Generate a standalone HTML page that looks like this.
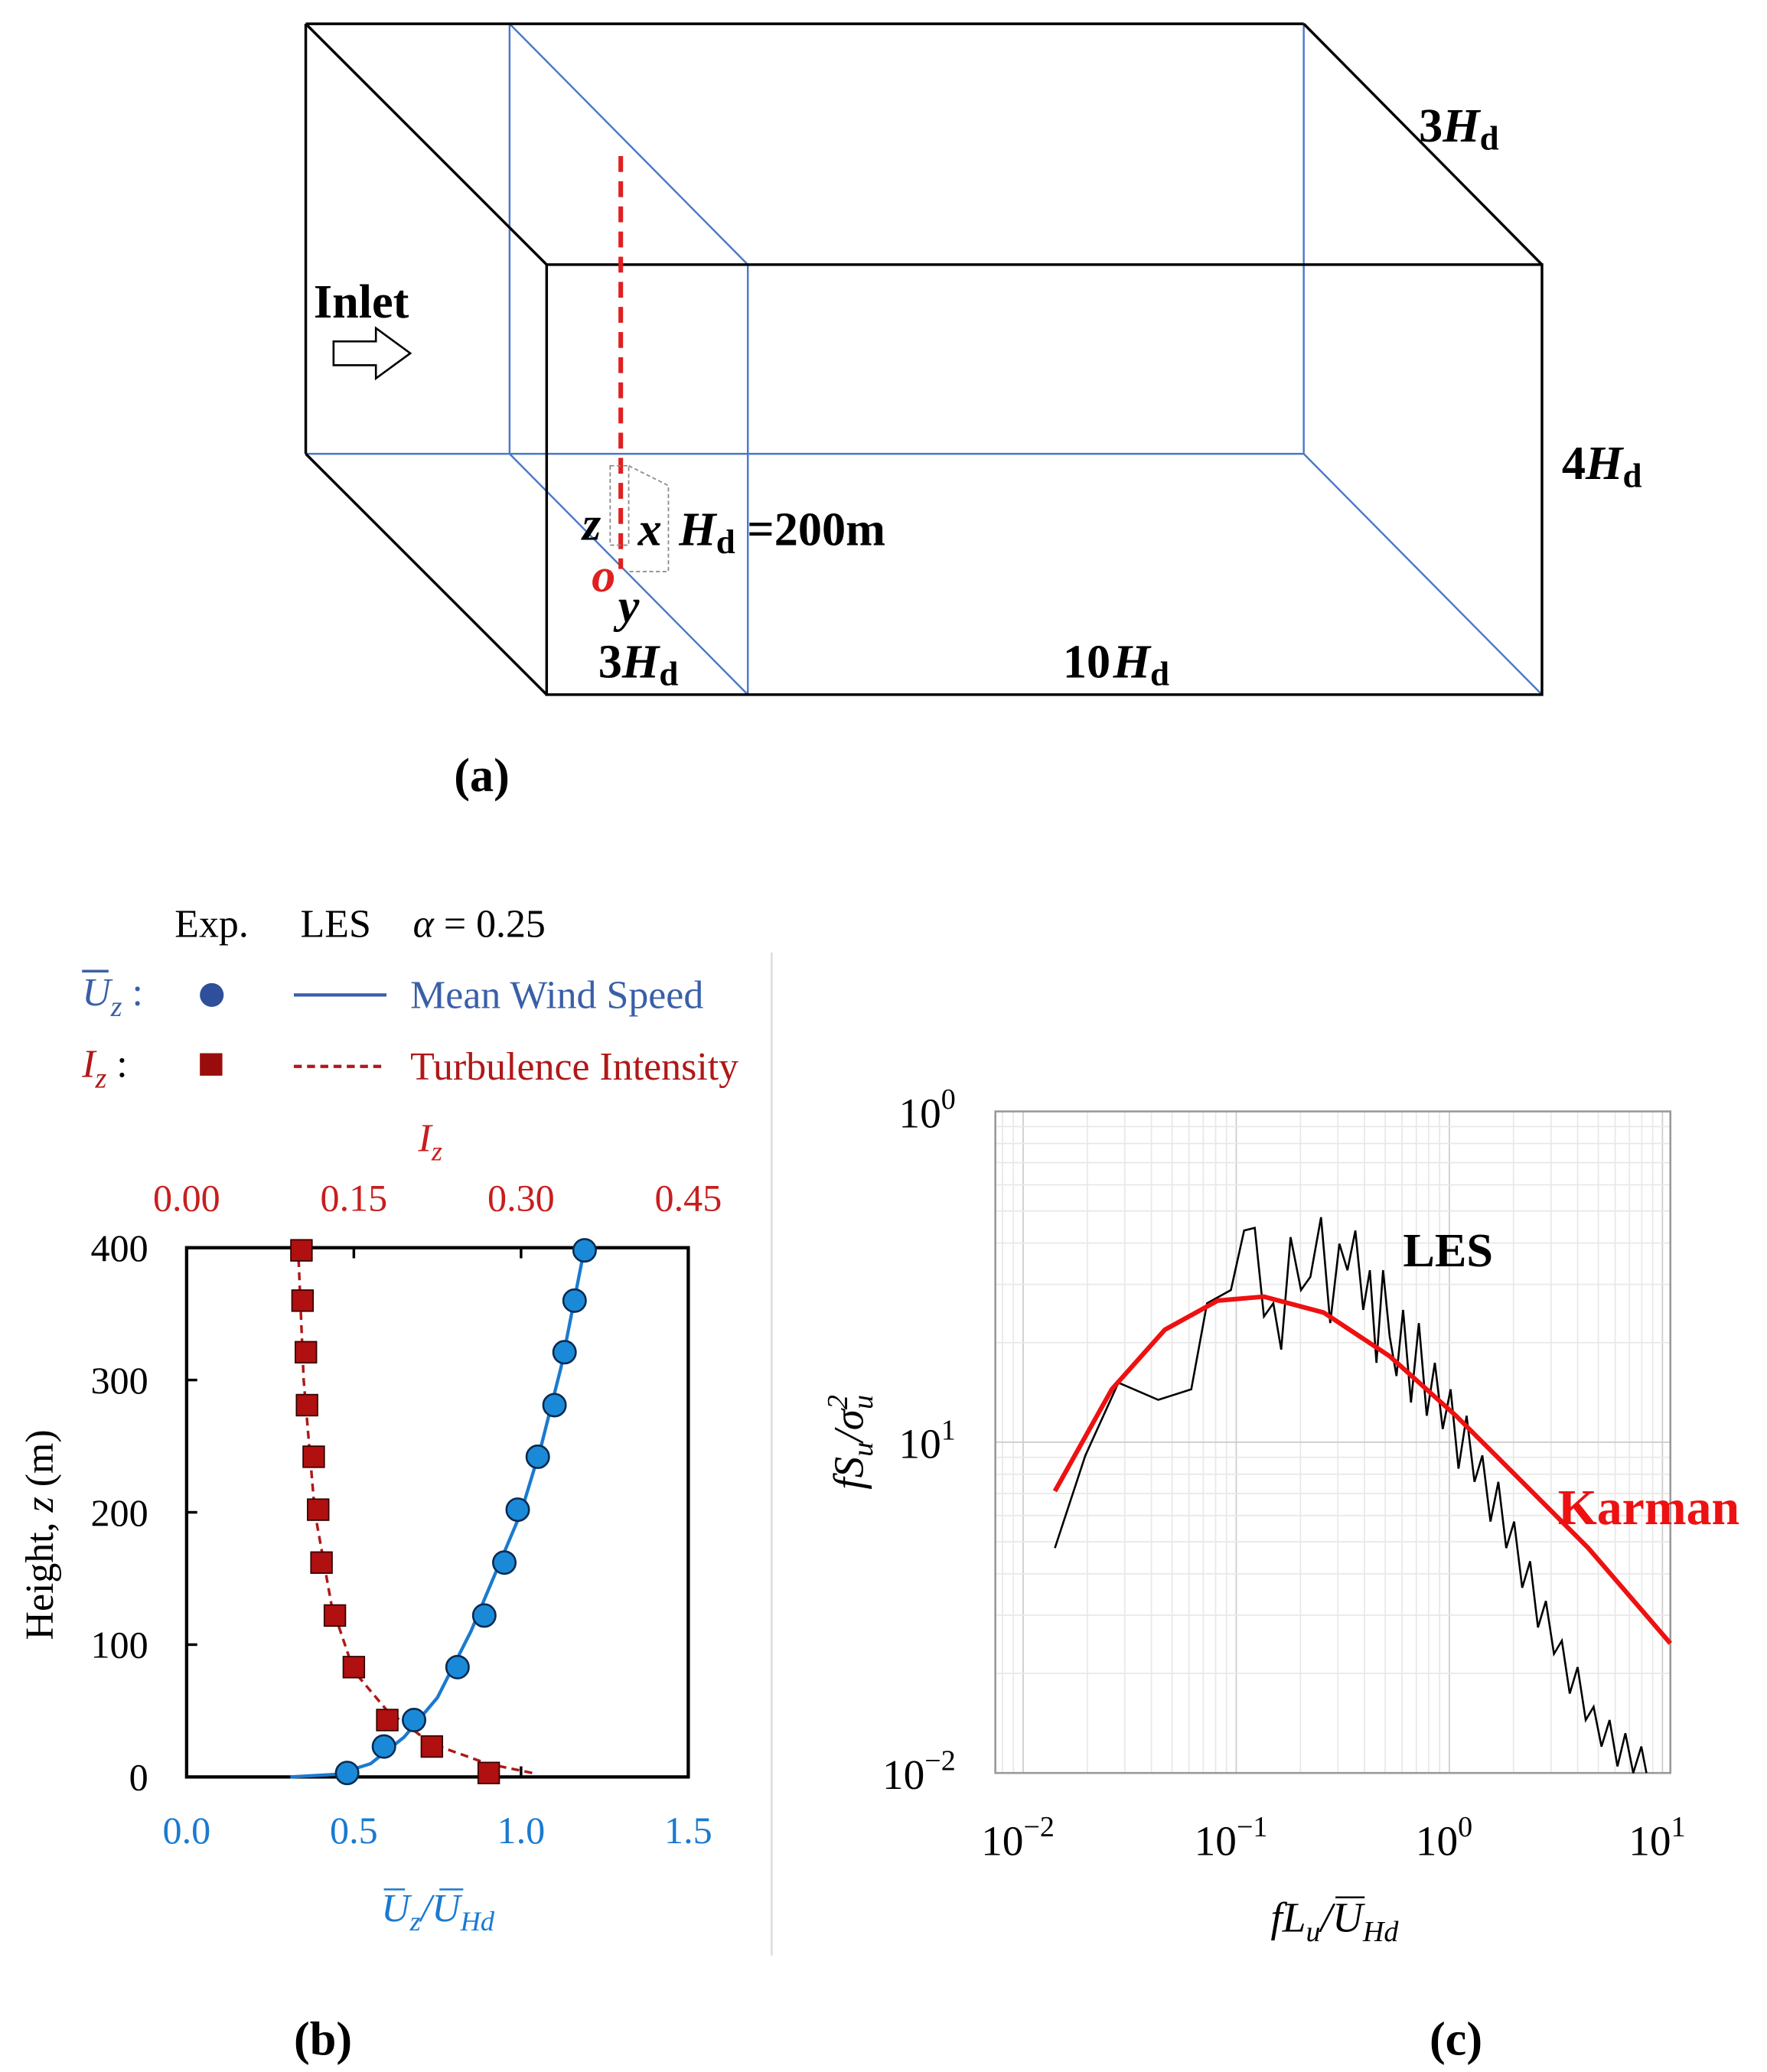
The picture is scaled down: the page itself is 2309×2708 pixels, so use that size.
<!DOCTYPE html>
<html><head><meta charset="utf-8"><style>
html,body{margin:0;padding:0;background:#fff}
svg{display:block}
text{font-family:"Liberation Serif",serif}
</style></head><body>
<svg id="s" width="2309" height="2708" viewBox="0 0 1335 1566" preserveAspectRatio="none">
<g fill="none" stroke-width="2">
<g stroke="#4a78c8" stroke-width="1.4">
<line x1="385" y1="18" x2="565" y2="200"/><line x1="385" y1="18" x2="385" y2="343"/>
<line x1="565" y1="200" x2="565" y2="525"/><line x1="385" y1="343" x2="565" y2="525"/>
<line x1="985" y1="18" x2="985" y2="343"/><line x1="231" y1="343" x2="985" y2="343"/>
<line x1="985" y1="343" x2="1165" y2="525"/>
</g>
<g stroke="#000">
<line x1="231" y1="18" x2="985" y2="18"/><line x1="231" y1="18" x2="231" y2="343"/>
<line x1="231" y1="18" x2="413" y2="200"/><line x1="985" y1="18" x2="1165" y2="200"/>
<line x1="231" y1="343" x2="413" y2="525"/>
<rect x="413" y="200" width="752" height="325"/>
</g>
<line x1="469" y1="118" x2="469" y2="430" stroke="#e02020" stroke-width="3.5" stroke-dasharray="12,7"/>
<path d="M252,258 h32 v-10 l26,19 l-26,19 v-10 h-32 z" stroke="#000" stroke-width="1.5"/>
<rect x="461" y="352" width="14" height="60" stroke="#888" stroke-width="1" stroke-dasharray="3,2"/>
<path d="M475,352 l30,15 v65 h-30" stroke="#888" stroke-width="1" stroke-dasharray="3,2"/>
</g>
<g font-weight="bold" font-size="36">
<text x="1072" y="107">3<tspan font-style="italic">H</tspan><tspan font-size="26" dy="6">d</tspan></text>
<text x="237" y="240">Inlet</text>
<text x="1180" y="362">4<tspan font-style="italic">H</tspan><tspan font-size="26" dy="6">d</tspan></text>
<text x="513" y="412"><tspan font-style="italic">H</tspan><tspan font-size="26" dy="6">d</tspan><tspan dy="-6"> =200m</tspan></text>
<text x="440" y="408" font-style="italic">z</text>
<text x="482" y="412" font-style="italic">x</text>
<text x="447" y="447" font-style="italic" fill="#e02020">o</text>
<text x="467" y="470" font-style="italic">y</text>
<text x="452" y="512">3<tspan font-style="italic">H</tspan><tspan font-size="26" dy="6">d</tspan></text>
<text x="803" y="512">10<tspan font-style="italic" dx="2">H</tspan><tspan font-size="26" dy="6">d</tspan></text>
<text x="343" y="598">(a)</text>
<text x="222" y="1553">(b)</text>
<text x="1080" y="1553">(c)</text>
</g>
<line x1="583" y1="720" x2="583" y2="1478" stroke="#ddd" stroke-width="1.5"/>
<g font-size="30">
<text x="132" y="708">Exp.</text><text x="227" y="708">LES</text><text x="312" y="708"><tspan font-style="italic">α</tspan> = 0.25</text>
<text x="62" y="760" fill="#3a5fa8" font-style="italic">U<tspan font-size="22" dy="8">z</tspan><tspan dy="-8" font-style="normal"> :</tspan></text>
<line x1="62" y1="734" x2="82" y2="734" stroke="#3a5fa8" stroke-width="2"/>
<circle cx="160" cy="752" r="9" fill="#2f4f9a"/>
<line x1="222" y1="752" x2="292" y2="752" stroke="#3a5fa8" stroke-width="2.5"/>
<text x="310" y="762" fill="#3a5fa8">Mean Wind Speed</text>
<text x="62" y="814" fill="#b01818" font-style="italic">I<tspan font-size="22" dy="8">z</tspan><tspan dy="-8" font-style="normal" fill="#000"> :</tspan></text>
<rect x="151" y="796" width="17" height="17" fill="#9a0c0c"/>
<line x1="222" y1="806" x2="292" y2="806" stroke="#b01818" stroke-width="2.5" stroke-dasharray="6,4"/>
<text x="310" y="816" fill="#b01818">Turbulence Intensity</text>
</g>
<g id="chartB"></g>
<g id="chartC"></g>
</svg>
<script>
const NS="http://www.w3.org/2000/svg";
function mk(p,t,a,txt){const e=document.createElementNS(NS,t);for(const k in a)e.setAttribute(k,a[k]);if(txt!==undefined)e.textContent=txt;p.appendChild(e);return e;}
// ---- chart B data ----
const expZ=[3,23,43,83,122,162,202,242,281,321,360,398];
const expU=[0.48,0.59,0.68,0.81,0.89,0.95,0.99,1.05,1.10,1.13,1.16,1.19];
const expI=[0.271,0.22,0.18,0.15,0.133,0.121,0.118,0.114,0.108,0.107,0.104,0.103];
const lesUz=[0,2,10,30,60,110,170,200,250,310,400];
const lesU=[0.31,0.45,0.55,0.65,0.75,0.85,0.95,1.0,1.06,1.12,1.19];
const lesIz=[3,10,25,50,80,130,200,300,400];
const lesI=[0.31,0.27,0.22,0.18,0.15,0.13,0.115,0.105,0.10];
const uTicks=["0.0","0.5","1.0","1.5"];
const iTicks=["0.00","0.15","0.30","0.45"];
const zTicks=["0","100","200","300","400"];
// ---- chart C data (log10 values) ----
const lesLogF=[-1.851,-1.708,-1.553,-1.366,-1.211,-1.137,-1.025,-0.963,-0.913,-0.870,-0.826,-0.789,-0.745,-0.696,-0.652,-0.602,-0.559,-0.516,-0.478,-0.441,-0.404,-0.373,-0.342,-0.311,-0.280,-0.248,-0.217,-0.180,-0.143,-0.106,-0.068,-0.031,0.006,0.043,0.081,0.118,0.155,0.193,0.230,0.267,0.304,0.342,0.379,0.416,0.453,0.491,0.528,0.565,0.602,0.640,0.677,0.714,0.752,0.789,0.826,0.863,0.901,0.925];
const lesLogS=[-1.32,-1.04,-0.82,-0.872,-0.84,-0.58,-0.54,-0.36,-0.352,-0.62,-0.58,-0.72,-0.38,-0.54,-0.50,-0.32,-0.64,-0.40,-0.48,-0.36,-0.60,-0.48,-0.76,-0.48,-0.68,-0.80,-0.60,-0.88,-0.64,-0.92,-0.76,-0.96,-0.84,-1.08,-0.92,-1.12,-1.04,-1.24,-1.12,-1.32,-1.24,-1.44,-1.36,-1.56,-1.48,-1.64,-1.60,-1.76,-1.68,-1.84,-1.80,-1.92,-1.84,-1.98,-1.88,-2.0,-1.92,-2.0];
const karLogF=[-1.851,-1.584,-1.335,-1.087,-0.870,-0.590,-0.280,0.031,0.342,0.652,1.037];
const karLogS=[-1.148,-0.84,-0.66,-0.572,-0.56,-0.608,-0.74,-0.92,-1.12,-1.32,-1.608];
const xExp=["-2","-1","0","1"];
const yExp=["0","1","-2"];

// chart B
const B=document.getElementById('chartB');
const bx0=141,bx1=520,by0=1343,by1=943;
const xu=v=>bx0+(v/1.5)*(bx1-bx0), xi=v=>bx0+(v/0.45)*(bx1-bx0), yz=v=>by0-(v/400)*(by0-by1);
let r=mk(B,'rect',{x:bx0,y:by1,width:bx1-bx0,height:by0-by1,fill:'none',stroke:'#000','stroke-width':2.5});

uTicks.forEach((t,i)=>{const x=xu(i*0.5);mk(B,'line',{x1:x,y1:by0,x2:x,y2:by0-8,stroke:'#000','stroke-width':2});
 const e=mk(B,'text',{x:x,y:1393,'text-anchor':'middle','font-size':29,fill:'#1a7ad0'},t);});
iTicks.forEach((t,i)=>{const x=xi(i*0.15);mk(B,'line',{x1:x,y1:by1,x2:x,y2:by1+8,stroke:'#000','stroke-width':2});
 const e=mk(B,'text',{x:x,y:915,'text-anchor':'middle','font-size':29,fill:'#c81e1e'},t);});
zTicks.forEach((t,i)=>{const y=yz(i*100);mk(B,'line',{x1:bx0,y1:y,x2:bx0+8,y2:y,stroke:'#000','stroke-width':2});
 const e=mk(B,'text',{x:112,y:y+10,'text-anchor':'end','font-size':29},t);});
let e=mk(B,'text',{x:0,y:0,transform:'translate(40,1160) rotate(-90)','text-anchor':'middle','font-size':30},'');
e.innerHTML='Height, <tspan font-style="italic">z</tspan> (m)';
e=mk(B,'text',{x:288,y:1452,'font-size':30,fill:'#1a7ad0','font-style':'italic'},'');
e.innerHTML='U<tspan font-size="21" dy="7">z</tspan><tspan dy="-7">/U</tspan><tspan font-size="21" dy="7">Hd</tspan>';

mk(B,'line',{x1:290,y1:1428,x2:306,y2:1428,stroke:'#1a7ad0','stroke-width':1.5});mk(B,'line',{x1:332,y1:1428,x2:350,y2:1428,stroke:'#1a7ad0','stroke-width':1.5});
e=mk(B,'text',{x:316,y:870,'font-size':30,fill:'#c81e1e','font-style':'italic'},'');
e.innerHTML='I<tspan font-size="21" dy="7">z</tspan>';
let p=mk(B,'polyline',{points:lesU.map((v,i)=>xu(v)+','+yz(lesUz[i])).join(' '),fill:'none',stroke:'#1a7ad0','stroke-width':2.5});

p=mk(B,'polyline',{points:lesI.map((v,i)=>xi(v)+','+yz(lesIz[i])).join(' '),fill:'none',stroke:'#b01818','stroke-width':2,'stroke-dasharray':'6,4'});

expZ.forEach((z,i)=>{
 const s=mk(B,'rect',{x:xi(expI[i])-8,y:yz(z)-8,width:16,height:16,fill:'#b01010',stroke:'#300',"stroke-width":1});
 
 const c=mk(B,'circle',{cx:xu(expU[i]),cy:yz(z),r:8.5,fill:'#1a8ad8',stroke:'#0a2a50','stroke-width':1.5});
 
});
// chart C
const C=document.getElementById('chartC');
const fx=l=>773+(l+2)*161, sy=l=>840-l*250;
const cx0=752,cx1=1262,cy0=840,cy1=1340;
for(let d=-3;d<=1;d++)for(let k=1;k<10;k++){const x=fx(d+Math.log10(k));if(x>cx0&&x<cx1)mk(C,'line',{x1:x,y1:cy0,x2:x,y2:cy1,stroke:k==1?'#ccc':'#e8e8e8','stroke-width':1});}
for(let d=-3;d<=0;d++)for(let k=1;k<10;k++){const y=sy(d+Math.log10(k));if(y>cy0&&y<cy1)mk(C,'line',{x1:cx0,y1:y,x2:cx1,y2:y,stroke:k==1?'#ccc':'#e8e8e8','stroke-width':1});}
r=mk(C,'rect',{x:cx0,y:cy0,width:cx1-cx0,height:cy1-cy0,fill:'none',stroke:'#999','stroke-width':1.5});

xExp.forEach((t,i)=>{e=mk(C,'text',{x:fx(i-2)-4,y:1402,'text-anchor':'middle','font-size':32},'');e.innerHTML='10<tspan font-size="22" dy="-14">'+t.replace('-','−')+'</tspan>';
 });
[[0,840],[1,1090],[2,1340]].forEach(([i,y])=>{e=mk(C,'text',{x:722,y:y+12,'text-anchor':'end','font-size':32},'');e.innerHTML='10<tspan font-size="22" dy="-14">'+yExp[i].replace('-','−')+'</tspan>';
 });
p=mk(C,'polyline',{points:lesLogF.map((v,i)=>fx(v)+','+sy(lesLogS[i])).join(' '),fill:'none',stroke:'#000','stroke-width':1.5});

p=mk(C,'polyline',{points:karLogF.map((v,i)=>fx(v)+','+sy(karLogS[i])).join(' '),fill:'none',stroke:'#ee1111','stroke-width':3.5});

e=mk(C,'text',{x:1060,y:957,'font-size':36,'font-weight':'bold'},'LES');
e=mk(C,'text',{x:1177,y:1152,'font-size':38,'font-weight':'bold',fill:'#ee1111'},'Karman');
e=mk(C,'text',{x:0,y:0,transform:'translate(652,1090) rotate(-90)','text-anchor':'middle','font-size':32,'font-style':'italic'},'');
e.innerHTML='fS<tspan font-size="22" dy="7">u</tspan><tspan dy="-7">/σ</tspan><tspan font-size="22" dy="7">u</tspan><tspan font-size="22" dx="-11" dy="-19">2</tspan>';

e=mk(C,'text',{x:960,y:1460,'font-size':32,'font-style':'italic'},'');
e.innerHTML='fL<tspan font-size="22" dy="7">u</tspan><tspan dy="-7">/U</tspan><tspan font-size="22" dy="7">Hd</tspan>';

mk(C,'line',{x1:1009,y1:1434,x2:1031,y2:1434,stroke:'#000','stroke-width':1.5});
</script>
</body></html>
